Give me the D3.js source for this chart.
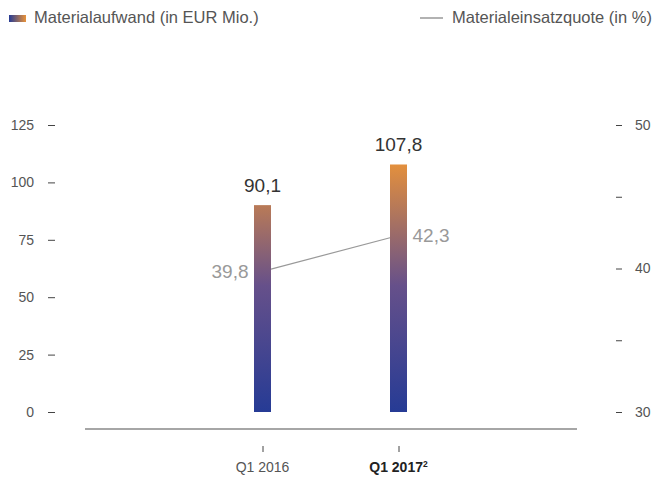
<!DOCTYPE html>
<html>
<head>
<meta charset="utf-8">
<script src="https://cdn.jsdelivr.net/npm/d3@7"></script>
<style>
body { margin: 0; background: #fff; }
text { font-family: "Liberation Sans", Arial, sans-serif; }
</style>
</head>
<body>
<script>
// dati
var categorie = ["Q1 2016", "Q1 2017"];
var aufwand = [90.1, 107.8];          // Materialaufwand (in EUR Mio.)
var quote = [39.8, 42.3];             // Materialeinsatzquote (in %)
var tickSx = [0, 25, 50, 75, 100, 125];
var tickDx = [30, 35, 40, 45, 50];

var width = 653, height = 480;

var svg = d3.select("body").append("svg")
    .attr("width", width)
    .attr("height", height);

// scale
var x = d3.scalePoint().domain(categorie).range([262.5, 398.5]);
var yS = d3.scaleLinear().domain([0, 125]).range([412, 125]);
var yD = d3.scaleLinear().domain([30, 50]).range([412, 125]);

// gradiente
var defs = svg.append("defs");
var grad = defs.append("linearGradient")
    .attr("id", "grad")
    .attr("gradientUnits", "userSpaceOnUse")
    .attr("x1", 0).attr("x2", 0)
    .attr("y1", yS(0)).attr("y2", yS(110));
grad.append("stop").attr("offset", "0%").attr("stop-color", "#263b95");
grad.append("stop").attr("offset", "50%").attr("stop-color", "#66508a");
grad.append("stop").attr("offset", "100%").attr("stop-color", "#e8923a");

var legGrad = defs.append("linearGradient").attr("id", "leg");
legGrad.append("stop").attr("offset", "0%").attr("stop-color", "#263b95");
legGrad.append("stop").attr("offset", "100%").attr("stop-color", "#e8923a");

// legenda
svg.append("rect").attr("x", 9).attr("y", 15).attr("width", 17).attr("height", 7)
    .attr("fill", "url(#leg)");
svg.append("text").attr("x", 34).attr("y", 23).attr("font-size", 16.5).attr("fill", "#555")
    .text("Materialaufwand (in EUR Mio.)");
svg.append("line").attr("x1", 420).attr("x2", 443).attr("y1", 18).attr("y2", 18)
    .attr("stroke", "#999").attr("stroke-width", 1.5);
svg.append("text").attr("x", 452).attr("y", 23).attr("font-size", 16.5).attr("fill", "#555")
    .text("Materialeinsatzquote (in %)");

// asse sinistro
var axL = svg.append("g").attr("transform", "translate(55,0)")
    .call(d3.axisLeft(yS).tickValues(tickSx).tickSize(7).tickPadding(14));
axL.select(".domain").remove();
axL.selectAll("line").attr("stroke", "#444");
axL.selectAll("text").attr("font-size", 14).attr("fill", "#555");

// asse destro
var axR = svg.append("g").attr("transform", "translate(616,0)")
    .call(d3.axisRight(yD).tickValues(tickDx).tickSize(6).tickPadding(13)
        .tickFormat(function (d) { return d % 10 === 0 ? d : ""; }));
axR.select(".domain").remove();
axR.selectAll("line").attr("stroke", "#444");
axR.selectAll("text").attr("font-size", 14).attr("fill", "#555");

// linea base
svg.append("line").attr("x1", 85).attr("x2", 577).attr("y1", 429).attr("y2", 429)
    .attr("stroke", "#888").attr("stroke-width", 1.5);

// asse x
var axB = svg.append("g").attr("transform", "translate(0,446)")
    .call(d3.axisBottom(x).tickSize(6).tickPadding(12).tickFormat(""));
axB.select(".domain").remove();
axB.selectAll("line").attr("stroke", "#444");

svg.append("text").attr("x", x(categorie[0])).attr("y", 472)
    .attr("text-anchor", "middle").attr("font-size", 14).attr("fill", "#555")
    .text(categorie[0]);
var t2 = svg.append("text").attr("x", x(categorie[1])).attr("y", 472)
    .attr("text-anchor", "middle").attr("font-size", 14).attr("fill", "#222")
    .attr("font-weight", "bold");
t2.append("tspan").text(categorie[1]);
t2.append("tspan").attr("font-size", 8.5).attr("dy", -5).text("2");

// linea quota (dietro le barre)
var lineData = categorie.map(function (c, i) { return { c: c, v: quote[i] }; });
svg.append("path").datum(lineData)
    .attr("fill", "none").attr("stroke", "#999").attr("stroke-width", 1.2)
    .attr("d", d3.line().x(function (d) { return x(d.c); }).y(function (d) { return yD(d.v); }));

// barre
var bw = 17;
svg.selectAll("rect.bar").data(aufwand).enter().append("rect")
    .attr("class", "bar")
    .attr("x", function (d, i) { return x(categorie[i]) - bw / 2; })
    .attr("y", function (d) { return yS(d); })
    .attr("width", bw)
    .attr("height", function (d) { return yS(0) - yS(d); })
    .attr("fill", "url(#grad)");

// etichette valori
svg.selectAll("text.val").data(aufwand).enter().append("text")
    .attr("class", "val")
    .attr("x", function (d, i) { return x(categorie[i]); })
    .attr("y", function (d) { return yS(d) - 13; })
    .attr("text-anchor", "middle").attr("font-size", 19).attr("fill", "#333")
    .text(function (d) { return d3.format(".1f")(d).replace(".", ","); });

svg.selectAll("text.quota").data(quote).enter().append("text")
    .attr("class", "quota")
    .attr("x", function (d, i) { return i === 0 ? x(categorie[i]) - 14 : x(categorie[i]) + 14; })
    .attr("y", function (d) { return yD(d) + 7; })
    .attr("text-anchor", function (d, i) { return i === 0 ? "end" : "start"; })
    .attr("font-size", 19).attr("fill", "#999")
    .text(function (d) { return d3.format(".1f")(d).replace(".", ","); });
</script>
</body>
</html>
